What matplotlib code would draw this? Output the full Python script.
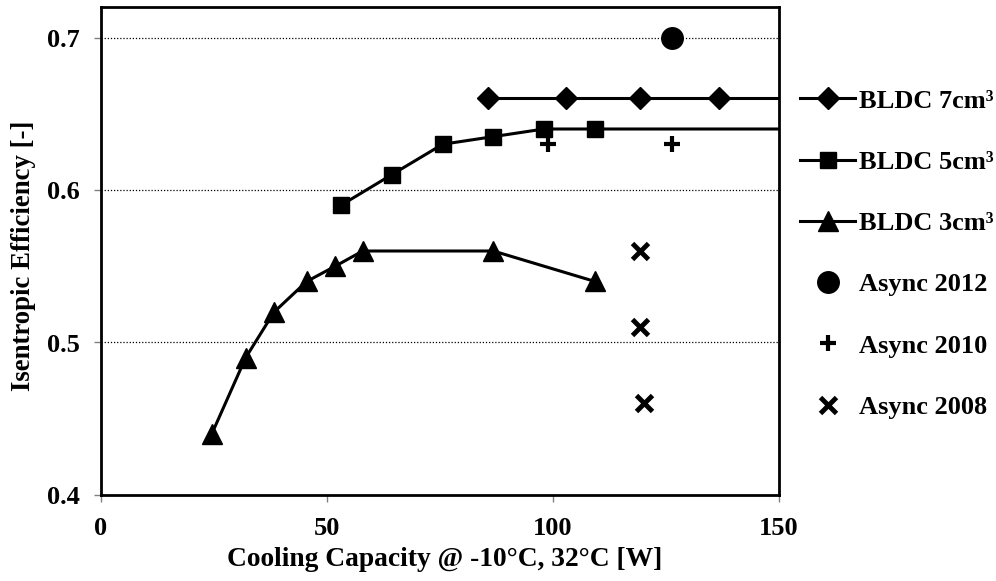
import matplotlib.pyplot as plt
import numpy as np

# DATA
bldc7_x = [85.6, 102.9, 119.2, 136.7, 165]
bldc7_y = [0.66, 0.66, 0.66, 0.66, 0.66]
bldc5_x = [53.1, 64.3, 75.6, 86.8, 98.0, 109.3, 165]
bldc5_y = [0.59, 0.61, 0.63, 0.635, 0.64, 0.64, 0.64]
bldc3_x = [24.5, 32.0, 38.3, 45.5, 51.8, 57.9, 86.8, 109.3]
bldc3_y = [0.44, 0.49, 0.52, 0.54, 0.55, 0.56, 0.56, 0.54]
async12_x = [126.3]
async12_y = [0.70]
async10_x = [99.0, 126.4]
async10_y = [0.63, 0.63]
async08_x = [119.2, 119.2, 120.1]
async08_y = [0.56, 0.51, 0.46]

plt.rcParams['font.family'] = ['Liberation Serif', 'DejaVu Serif']
plt.rcParams['font.weight'] = 'bold'

fig = plt.figure(figsize=(9.96, 5.81), dpi=100)
ax = fig.add_axes([101/996, (581-495)/581, (779-101)/996, (495-7)/581])

# gridlines (dotted)
for yv in [0.5, 0.6, 0.7]:
    ax.axhline(yv, color='black', linestyle=(0, (1, 1.5)), linewidth=0.9, zorder=0)

ax.plot(bldc7_x, bldc7_y, '-', color='black', lw=2.2, marker='D', ms=11,
        markevery=list(range(4)), label='BLDC 7cm³')
ax.plot(bldc5_x, bldc5_y, '-', color='black', lw=2.2, marker='s', ms=11.5,
        markevery=list(range(6)), label='BLDC 5cm³')
ax.plot(bldc3_x, bldc3_y, '-', color='black', lw=2.2, marker='^', ms=15,
        label='BLDC 3cm³')
ax.plot(async12_x, async12_y, 'o', color='black', ms=15.5, label='Async 2012')
ax.plot(async10_x, async10_y, '+', color='black', ms=11, mew=3, label='Async 2010')
ax.plot(async08_x, async08_y, 'x', color='black', ms=11, mew=3.5, label='Async 2008')

ax.set_xlim(0, 150)
ax.set_ylim(0.4, 0.72)
ax.set_xticks([0, 50, 100, 150])
ax.set_yticks([0.4, 0.5, 0.6, 0.7])
ax.set_yticklabels(['0.4', '0.5', '0.6', '0.7'])
ax.tick_params(axis='both', which='major', labelsize=19, length=5, width=1,
               color='gray', direction='out')
ax.tick_params(axis='y', pad=10)
ax.tick_params(axis='x', pad=11)
for s in ax.spines.values():
    s.set_linewidth(2)
    s.set_color('black')

ax.set_xlabel('Cooling Capacity @ -10°C, 32°C [W]', fontsize=19.8, fontweight='bold')
ax.xaxis.set_label_coords(0.507, -0.106)
ax.set_ylabel('Isentropic Efficiency [-]', fontsize=19.3, fontweight='bold')
ax.yaxis.set_label_coords((36 - 101) / 678, 0.49)

leg = ax.legend(loc='center left', bbox_to_anchor=(800/996, (581-254)/581),
                bbox_transform=fig.transFigure, frameon=False, borderpad=0,
                borderaxespad=0, handlelength=2.1, handletextpad=0.15,
                labelspacing=1.43, prop={'weight': 'bold', 'size': 19})

fig.savefig('out.png', dpi=100)
